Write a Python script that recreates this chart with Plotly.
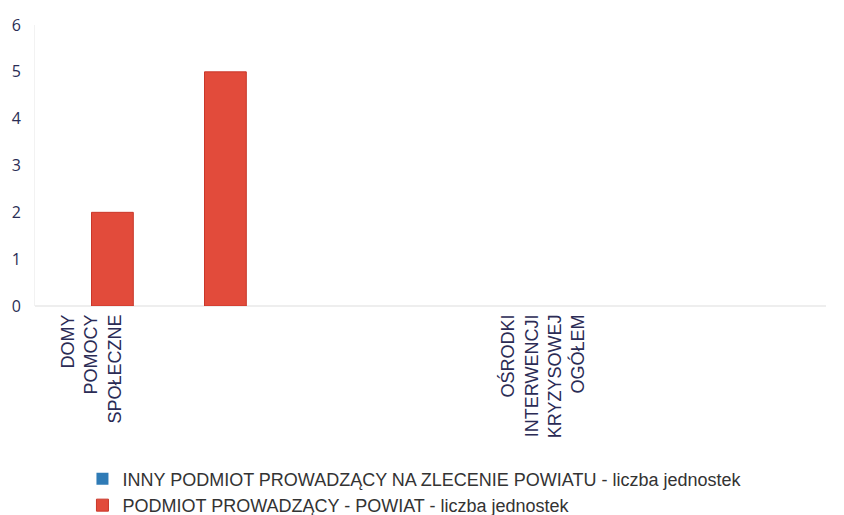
import plotly.graph_objects as go

categories = [
    "DOMY<br>POMOCY<br>SPOŁECZNE",
    "",
    "",
    "",
    "OŚRODKI<br>INTERWENCJI<br>KRYZYSOWEJ<br>OGÓŁEM",
    "",
    "",
]
inny_values = [None, None, None, None, None, None, None]
powiat_values = [2, 5, None, None, None, None, None]
series_names = [
    "INNY PODMIOT PROWADZĄCY NA ZLECENIE POWIATU - liczba jednostek",
    "PODMIOT PROWADZĄCY - POWIAT - liczba jednostek",
]
y_ticks = [0, 1, 2, 3, 4, 5, 6]

x = list(range(len(categories)))

fig = go.Figure()
fig.add_trace(go.Bar(
    x=x, y=inny_values, name=series_names[0],
    marker=dict(color="#2f7bb6", line=dict(width=0)),
))
fig.add_trace(go.Bar(
    x=x, y=powiat_values, name=series_names[1],
    marker=dict(color="#e24b3b", line=dict(color="#c9372a", width=1)),
))

fig.update_layout(
    width=836, height=507,
    margin=dict(l=27, r=18, t=17, b=209, autoexpand=False),
    paper_bgcolor="white", plot_bgcolor="white",
    barmode="group", bargap=0.26, bargroupgap=0,
    font=dict(family="Liberation Sans, Arial, sans-serif", color="#2b2b55", size=14),
    showlegend=True,
    legend=dict(
        orientation="v", x=0.06, xanchor="left", y=-0.55, yanchor="top",
        font=dict(size=18, color="#333333"),
        itemwidth=30, tracegroupgap=0,
        bgcolor="rgba(0,0,0,0)",
    ),
)
fig.update_xaxes(
    range=[-0.5, len(categories) - 0.5],
    tickmode="array", tickvals=x, ticktext=categories,
    tickangle=-90, tickfont=dict(size=18, color="#2b2b55"),
    ticklabelstandoff=4,
    showgrid=False, zeroline=False, showline=False, ticks="",
    automargin=False,
)
fig.update_yaxes(
    range=[0, 6], tickmode="array", tickvals=y_ticks,
    tickfont=dict(size=16, color="#2a2d55", family="Open Sans, sans-serif"),
    ticklabelstandoff=10,
    showgrid=False, zeroline=True, zerolinecolor="#eeeeee", zerolinewidth=2,
    showline=True, linecolor="#f2f2f2", linewidth=1, ticks="",
    automargin=False,
)

fig.write_html("out.html")
